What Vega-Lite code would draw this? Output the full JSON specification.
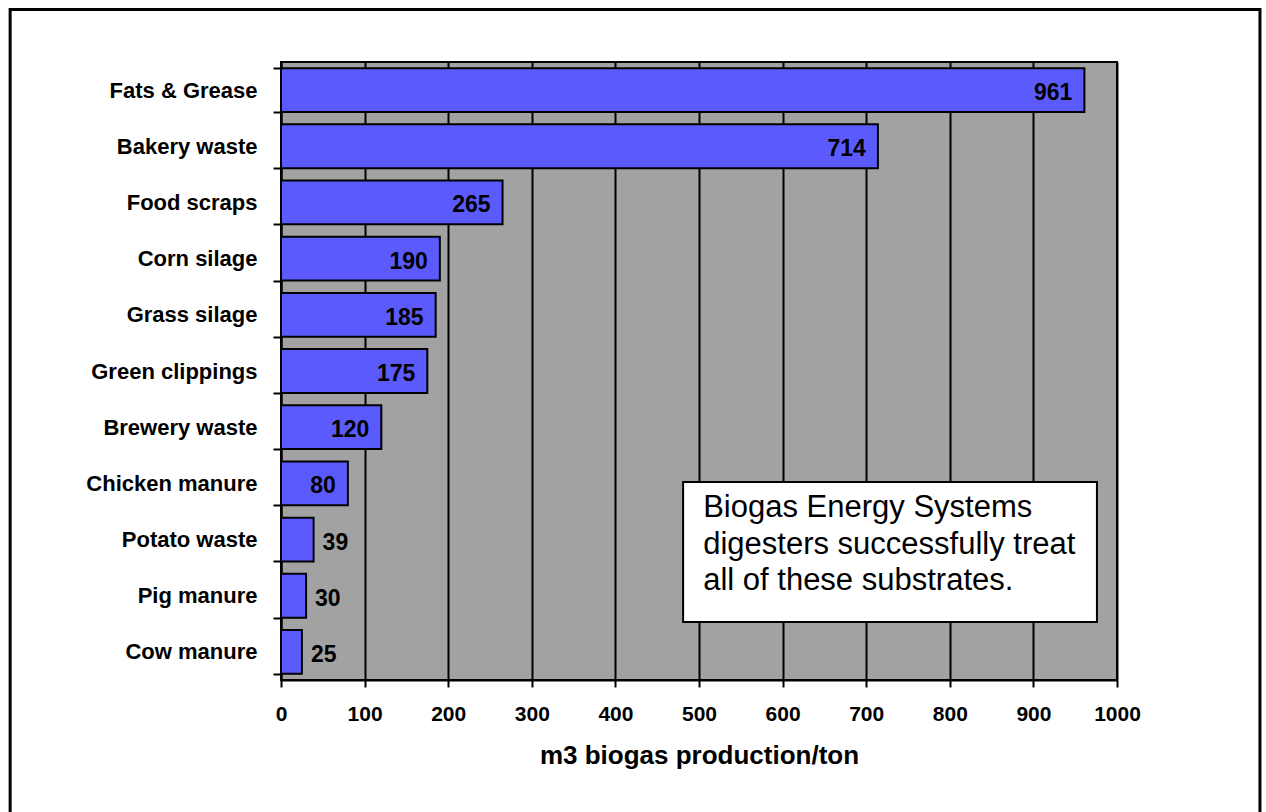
{
  "$schema": "https://vega.github.io/schema/vega-lite/v6.json",
  "autosize": "none",
  "width": 836,
  "height": 618,
  "padding": {"left": 281, "top": 62, "right": 149, "bottom": 132},
  "background": "white",
  "config": {
    "view": {"fill": "#a2a2a2", "stroke": "black", "strokeWidth": 2},
    "font": "Liberation Sans",
    "axisX": {
      "grid": true, "gridColor": "black", "gridWidth": 2, "gridOpacity": 1,
      "domainColor": "black", "domainWidth": 2,
      "tickColor": "black", "tickWidth": 2, "tickSize": 7,
      "labelFont": "Liberation Sans", "labelFontWeight": "bold", "labelFontSize": 21,
      "labelColor": "black", "labelPadding": 16, "labelFlush": false,
      "titleFont": "Liberation Sans", "titleFontWeight": "bold", "titleFontSize": 26,
      "titleColor": "black", "titlePadding": 18
    },
    "axisY": {
      "grid": false, "domainColor": "black", "domainWidth": 2,
      "tickColor": "black", "tickWidth": 2, "tickSize": 8, "tickBand": "extent",
      "labelFont": "Liberation Sans", "labelFontWeight": "bold", "labelFontSize": 22,
      "labelColor": "black", "labelPadding": 16, "labelLimit": 300
    }
  },
  "datasets": {
    "bars": [
      {"substrate": "Fats & Grease", "m3": 961},
      {"substrate": "Bakery waste", "m3": 714},
      {"substrate": "Food scraps", "m3": 265},
      {"substrate": "Corn silage", "m3": 190},
      {"substrate": "Grass silage", "m3": 185},
      {"substrate": "Green clippings", "m3": 175},
      {"substrate": "Brewery waste", "m3": 120},
      {"substrate": "Chicken manure", "m3": 80},
      {"substrate": "Potato waste", "m3": 39},
      {"substrate": "Pig manure", "m3": 30},
      {"substrate": "Cow manure", "m3": 25}
    ],
    "box": [{"x": 481, "x2": 976, "y": 7.476, "y2": 9.968}],
    "note": [{"x": 505, "y": 7.68, "label": "Biogas Energy Systems\ndigesters successfully treat\nall of these substrates."}],
    "frame": [{"x": -324, "x2": 1171, "y": -0.934, "y2": 13.5}]
  },
  "layer": [
    {
      "data": {"name": "bars"},
      "layer": [
        {
          "mark": {"type": "bar", "fill": "#5b5bfd", "stroke": "black", "strokeWidth": 2},
          "encoding": {
            "y": {
              "field": "substrate", "type": "nominal", "sort": null,
              "scale": {"paddingInner": 0.22, "paddingOuter": 0.11},
              "axis": {"title": null}
            },
            "x": {
              "field": "m3", "type": "quantitative",
              "scale": {"domain": [0, 1000], "nice": false},
              "axis": {"title": "m3 biogas production/ton", "format": "d", "values": [0, 100, 200, 300, 400, 500, 600, 700, 800, 900, 1000]}
            }
          }
        },
        {
          "transform": [{"filter": "datum.m3 >= 50"}],
          "mark": {"type": "text", "align": "right", "baseline": "middle", "dx": -12, "dy": 3,
                   "font": "Liberation Sans", "fontWeight": "bold", "fontSize": 23, "color": "black"},
          "encoding": {
            "y": {"field": "substrate", "type": "nominal", "sort": null, "axis": {"title": null}},
            "x": {"field": "m3", "type": "quantitative", "axis": {"title": "m3 biogas production/ton", "format": "d", "values": [0, 100, 200, 300, 400, 500, 600, 700, 800, 900, 1000]}},
            "text": {"field": "m3", "type": "quantitative"}
          }
        },
        {
          "transform": [{"filter": "datum.m3 < 50"}],
          "mark": {"type": "text", "align": "left", "baseline": "middle", "dx": 9, "dy": 3,
                   "font": "Liberation Sans", "fontWeight": "bold", "fontSize": 23, "color": "black"},
          "encoding": {
            "y": {"field": "substrate", "type": "nominal", "sort": null, "axis": {"title": null}},
            "x": {"field": "m3", "type": "quantitative", "axis": {"title": "m3 biogas production/ton", "format": "d", "values": [0, 100, 200, 300, 400, 500, 600, 700, 800, 900, 1000]}},
            "text": {"field": "m3", "type": "quantitative"}
          }
        }
      ]
    },
    {
      "layer": [
        {
          "data": {"name": "box"},
          "mark": {"type": "rect", "fill": "white", "stroke": "black", "strokeWidth": 2},
          "encoding": {
            "x": {"field": "x", "type": "quantitative", "axis": {"title": "m3 biogas production/ton", "format": "d", "values": [0, 100, 200, 300, 400, 500, 600, 700, 800, 900, 1000]}},
            "x2": {"field": "x2"},
            "y": {"field": "y", "type": "quantitative", "axis": null,
                  "scale": {"domain": [0, 11], "reverse": true, "nice": false, "zero": false}},
            "y2": {"field": "y2"}
          }
        },
        {
          "data": {"name": "note"},
          "mark": {"type": "text", "align": "left", "baseline": "top", "lineBreak": "\n",
                   "lineHeight": 36.5, "font": "Liberation Sans", "fontSize": 31, "color": "black"},
          "encoding": {
            "x": {"field": "x", "type": "quantitative", "axis": {"title": "m3 biogas production/ton", "format": "d", "values": [0, 100, 200, 300, 400, 500, 600, 700, 800, 900, 1000]}},
            "y": {"field": "y", "type": "quantitative", "axis": null},
            "text": {"field": "label", "type": "nominal"}
          }
        },
        {
          "data": {"name": "frame"},
          "mark": {"type": "rect", "filled": false, "color": "black", "strokeWidth": 3, "clip": false},
          "encoding": {
            "x": {"field": "x", "type": "quantitative", "axis": {"title": "m3 biogas production/ton", "format": "d", "values": [0, 100, 200, 300, 400, 500, 600, 700, 800, 900, 1000]}},
            "x2": {"field": "x2"},
            "y": {"field": "y", "type": "quantitative", "axis": null},
            "y2": {"field": "y2"}
          }
        }
      ]
    }
  ],
  "resolve": {"scale": {"y": "independent"}}
}
